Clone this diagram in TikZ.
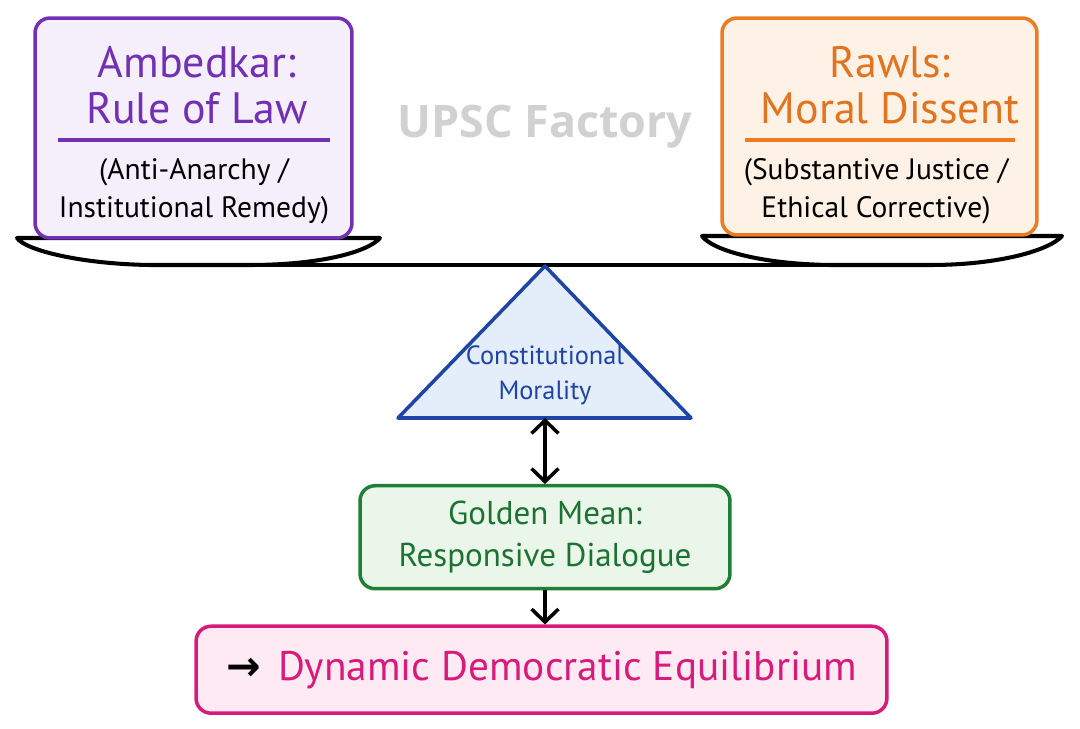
\documentclass[tikz,border=0pt]{standalone}
\usepackage{fontspec}
\setmainfont{PT Sans}
\newfontfamily\markfont{Open Sans}
\newfontfamily\symfont{DejaVu Sans}
\usepackage{tikz}
\usetikzlibrary{
    arrows.meta,
    positioning
}

\definecolor{ambedline}{HTML}{7231B3}
\definecolor{ambedfill}{HTML}{F4EFFB}
\definecolor{rawlsline}{HTML}{EE7A22}
\definecolor{rawlsfill}{HTML}{FEF1E5}
\definecolor{moralline}{HTML}{1E44A6}
\definecolor{moralfill}{HTML}{E4EDFA}
\definecolor{goldline}{HTML}{1F7F36}
\definecolor{goldfill}{HTML}{EAF6EA}
\definecolor{eqline}{HTML}{D81B7A}
\definecolor{eqfill}{HTML}{FDEAF3}

\begin{document}
\begin{tikzpicture}[
        x=0.02cm, y=-0.02cm,
        panel/.style={rectangle, rounded corners=0.3cm, line width=2pt},
        title/.style={align=center, font=\fontsize{25}{26.5}\selectfont},
        subtitle/.style={align=center, text=black, font=\fontsize{16.8}{21.5}\selectfont},
        plate/.style={draw=black, fill=white, line width=2.3pt, line join=round},
        arrow/.style={-{Straight Barb[length=2.6mm, width=5.4mm, line width=2pt]}, line width=2pt, draw=black},
        dblarrow/.style={{Straight Barb[length=2.6mm, width=5.4mm, line width=2pt]}-{Straight Barb[length=2.6mm, width=5.4mm, line width=2pt]}, line width=2pt, draw=black},
    ]

    \useasboundingbox[fill=white] (0,0) rectangle (1080,729);

    % Watermark
    \node[font=\markfont\bfseries\fontsize{25.5}{26}\selectfont, text=black!18] (mark) at (545,127) {UPSC Factory};

    % Scale beam and pans
    \draw[line width=2.3pt] (200,265) -- (880,265);
    \draw[plate] (17,238) -- (380,238) .. controls (368,252) and (320,265) .. (250,265)
        -- (150,265) .. controls (80,264) and (25,250) .. cycle;
    \draw[plate] (702,236) -- (1062,236) .. controls (1050,250) and (1000,265) .. (930,265)
        -- (830,265) .. controls (760,264) and (712,250) .. cycle;

    % Left pan - Ambedkar
    \node[panel, draw=ambedline, fill=ambedfill, minimum width=6.34cm, minimum height=4.4cm]
        (ambed) at (193.5,128) {};
    \node[title, text=ambedline] (ambedtitle) at (197,85) {Ambedkar:\\Rule of Law};
    \draw[draw=ambedline, line width=2pt] (58,140) -- (330,140);
    \node[subtitle] (ambedsub) at (194,191) {(Anti-Anarchy /\\Institutional Remedy)};

    % Right pan - Rawls
    \node[panel, draw=rawlsline, fill=rawlsfill, minimum width=6.3cm, minimum height=4.34cm]
        (rawls) at (879.5,126.5) {};
    \node[title, text=rawlsline!95!black] (rawlstitle) at (890,85) {Rawls:\\Moral Dissent};
    \draw[draw=rawlsline, line width=2pt] (745,140) -- (1015,140);
    \node[subtitle] (rawlssub) at (876,191) {(Substantive Justice /\\Ethical Corrective)};

    % Fulcrum
    \coordinate (apex) at (545,266);
    \coordinate (tribase) at (545,418);
    \draw[draw=moralline, fill=moralfill, line width=2pt, line join=round]
        (apex) -- (691,418) -- (398,418) -- cycle;
    \node[align=center, text=moralline, font=\fontsize{15}{20}\selectfont]
        (moral) at (545,375) {Constitutional\\Morality};

    % Golden mean and outcome
    \node[panel, draw=goldline, fill=goldfill, minimum width=7.4cm, minimum height=2.06cm,
          align=center, text=goldline!90!black, font=\fontsize{18.8}{24}\selectfont,
          below=1.32cm of tribase] (golden) {Golden Mean:\\Responsive Dialogue};
    \node[panel, draw=eqline, fill=eqfill, minimum width=13.82cm, minimum height=1.74cm,
          text=eqline, font=\fontsize{23.5}{26}\selectfont, below=0.68cm of golden, xshift=-0.07cm]
        (result) {{\symfont\bfseries\color{black}→}\, Dynamic Democratic Equilibrium};

    % Arrows
    \draw[dblarrow] (tribase) -- (golden.north);
    \draw[arrow] (golden.south) -- (result.north -| golden.south);

\end{tikzpicture}
\end{document}
